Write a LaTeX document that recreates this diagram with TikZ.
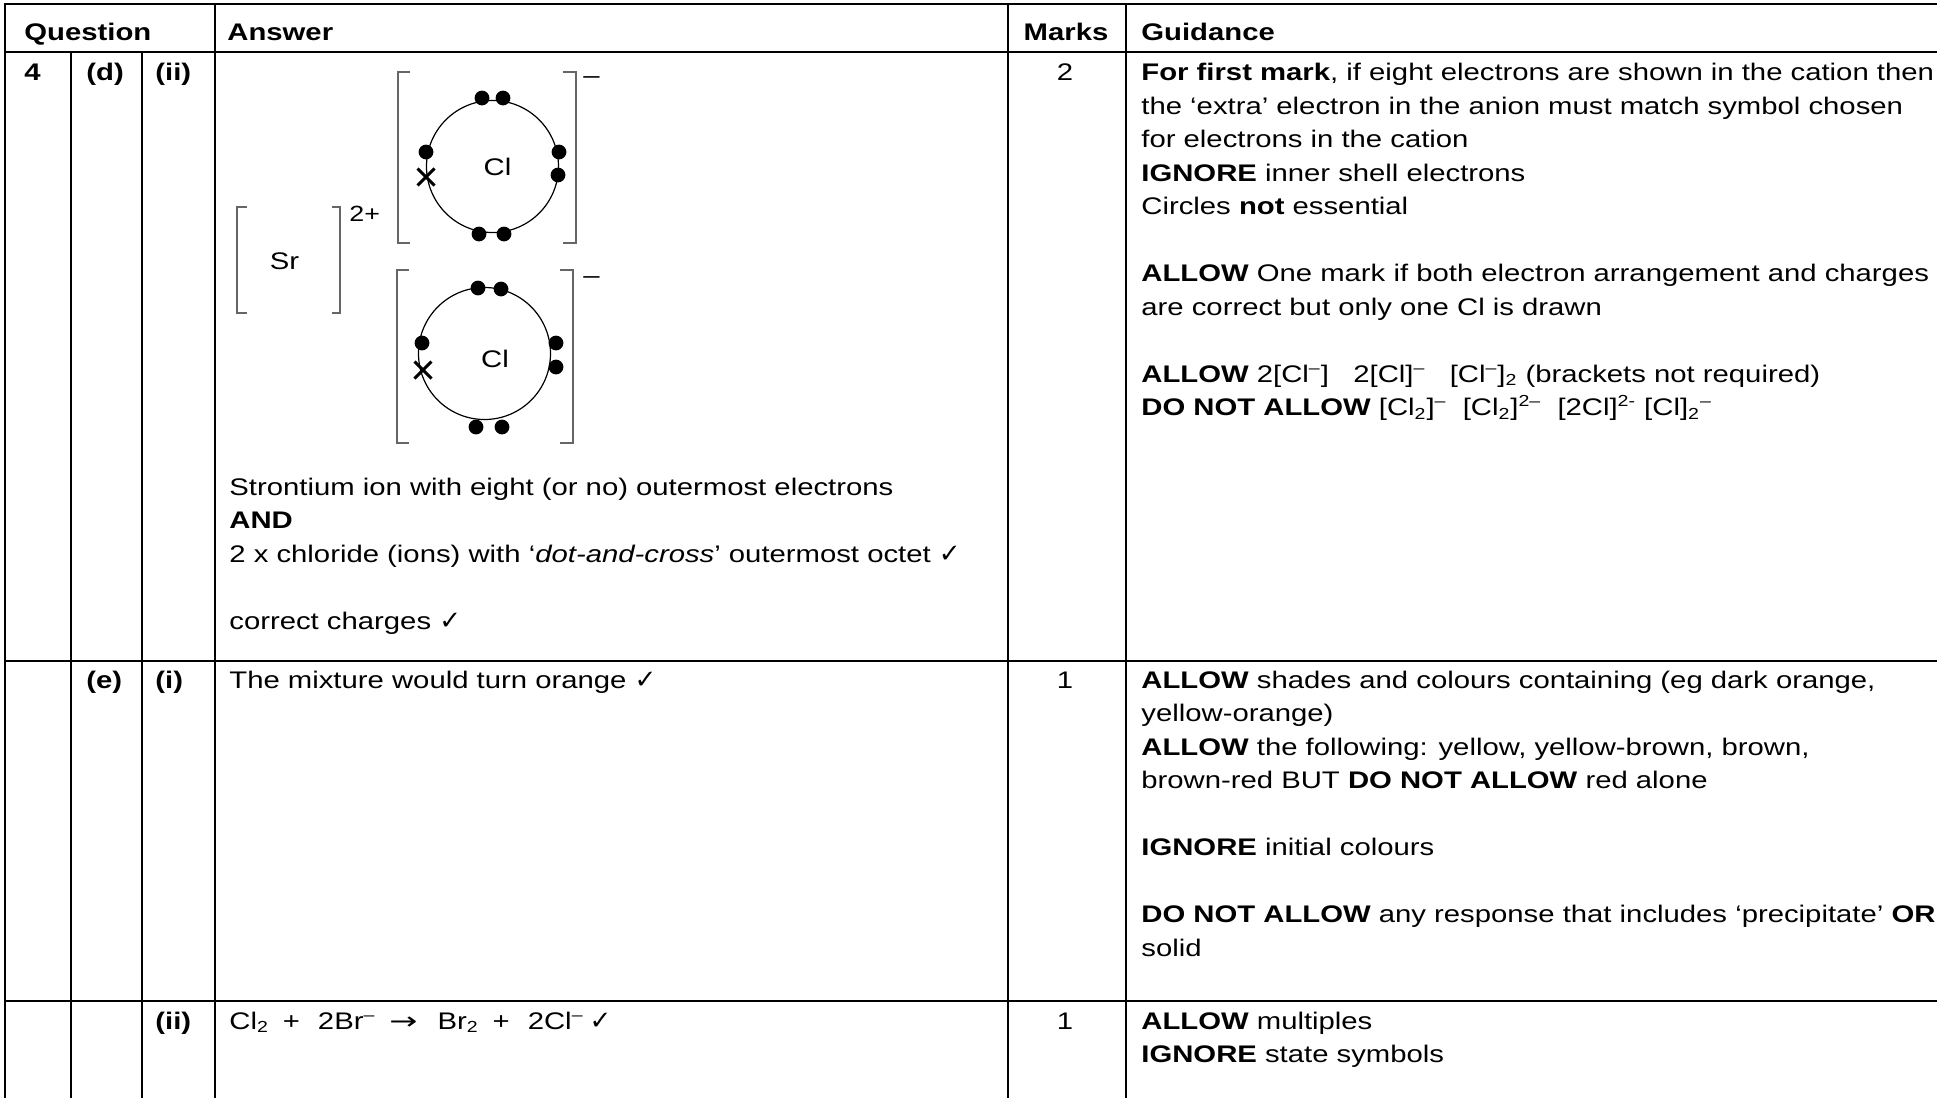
\documentclass[tikz,border=0pt]{standalone}
\usepackage{fontspec}
\setmainfont{Liberation Sans}[FakeStretch=1.22]
\newfontfamily\tickfont{DejaVu Sans}
\newfontfamily\arrowfont{DejaVu Sans}[FakeStretch=1.4]
\newcommand{\mytick}{{\tickfont\fontsize{13}{14}\selectfont ✓}}
\newcommand{\myarrow}{{\arrowfont\fontsize{12}{14}\selectfont →}}

\begin{document}
\begin{tikzpicture}[x=0.5pt, y=-0.5pt,
    every node/.style={inner sep=0pt, font=\fontsize{12}{14}\selectfont},
    rule/.style={line width=1.1pt, line join=miter},
    txt/.style={anchor=base west},
    hd/.style={anchor=base west, font=\fontsize{12}{14}\selectfont\bfseries},
    markno/.style={anchor=base},
    bracket/.style={draw=black!60, line width=0.6pt},
    shell/.style={line width=0.6pt},
    electron/.style={fill=black},
    cross/.style={line width=1.5pt}]

  \useasboundingbox (0,0) rectangle (1937,1098);

  % table rules
  \draw[rule] (1937,4) -- (5,4) -- (5,1098);
  \draw[rule] (5,52) -- (1937,52);
  \draw[rule] (5,661) -- (1937,661);
  \draw[rule] (5,1001) -- (1937,1001);
  \draw[rule] (71,52) -- (71,1098);
  \draw[rule] (142,52) -- (142,1098);
  \draw[rule] (215,4) -- (215,1098);
  \draw[rule] (1008,4) -- (1008,1098);
  \draw[rule] (1126,4) -- (1126,1098);

  % header
  \node[hd] (question) at (24,40.5) {Question};
  \node[hd] (answer) at (227,40.5) {Answer};
  \node[hd, markno] (marks) at (1066,40.5) {Marks};
  \node[hd] (guidance) at (1141,40.5) {Guidance};

  % 4 (d) (ii)
  \node[hd] (q4) at (24,80.5) {4};
  \node[hd] (qd) at (86,80.5) {(d)};
  \node[hd] (qdii) at (155,80.5) {(ii)};
  \node[markno] (markd) at (1065,80.5) {2};

  % strontium ion
  \draw[bracket] (247,207) -- (237,207) -- (237,313) -- (247,313);
  \draw[bracket] (332,207) -- (340,207) -- (340,313) -- (332,313);
  \node[markno] (sr) at (284.5,269) {Sr};
  \node[txt, font=\fontsize{11}{12}\selectfont] (srcharge) at (349,221) {2+};

  % first chloride ion
  \draw[bracket] (410,72) -- (398,72) -- (398,243) -- (410,243);
  \draw[bracket] (563,72) -- (576,72) -- (576,243) -- (563,243);
  \draw[shell] (492.5,166.5) circle[radius=33pt];
  \node[markno] (cla) at (497.5,175) {Cl};
  \node[txt] (clacharge) at (583,83) {–};
  \foreach \x/\y in {482/98, 503/98, 479/234, 504/234, 559/152, 558/175, 426/152}
    \fill[electron] (\x,\y) circle[radius=3.7pt];
  \draw[cross] (417.5,168.5) -- ++(17,17) (417.5,185.5) -- ++(17,-17);

  % second chloride ion
  \draw[bracket] (409,270) -- (397,270) -- (397,443) -- (409,443);
  \draw[bracket] (560,270) -- (573,270) -- (573,443) -- (560,443);
  \draw[shell] (484.5,353.5) circle[radius=33pt];
  \node[markno] (clb) at (495,367) {Cl};
  \node[txt] (clbcharge) at (583,283) {–};
  \foreach \x/\y in {478/288, 501/289, 476/427, 502/427, 556/343, 556/367, 422/343}
    \fill[electron] (\x,\y) circle[radius=3.7pt];
  \draw[cross] (414.5,361.5) -- ++(17,17) (414.5,378.5) -- ++(17,-17);

  % answer (d)(ii)
  \node[txt] (ansa) at (229,495) {Strontium ion with eight (or no) outermost electrons};
  \node[hd] (ansb) at (229,528.5) {AND};
  \node[txt] (ansc) at (229,562) {2 x chloride (ions) with ‘\textit{dot-and-cross}’ outermost octet \mytick};
  \node[txt] (ansd) at (229,629) {correct charges \mytick};

  % guidance (d)(ii)
  \node[txt] (gda) at (1141,80.5) {\textbf{For first mark}, if eight electrons are shown in the cation then};
  \node[txt] (gdb) at (1141,114) {the ‘extra’ electron in the anion must match symbol chosen};
  \node[txt] (gdc) at (1141,147.5) {for electrons in the cation};
  \node[txt] (gdd) at (1141,181) {\textbf{IGNORE} inner shell electrons};
  \node[txt] (gde) at (1141,214.5) {Circles \textbf{not} essential};
  \node[txt] (gdf) at (1141,281.5) {\textbf{ALLOW} One mark if both electron arrangement and charges};
  \node[txt] (gdg) at (1141,315) {are correct but only one Cl is drawn};
  \node[txt] (gdh) at (1141,382) {\textbf{ALLOW} 2[Cl\textsuperscript{–}]~~ 2[Cl]\textsuperscript{–}~~ [Cl\textsuperscript{–}]\textsubscript{2} (brackets not required)};
  \node[txt] (gdi) at (1141,415.5) {\textbf{DO NOT ALLOW} [Cl\textsubscript{2}]\textsuperscript{–}~ [Cl\textsubscript{2}]\textsuperscript{2–}~ [2Cl]\textsuperscript{2-} [Cl]\textsubscript{2}\textsuperscript{–}};

  % (e) (i)
  \node[hd] (qe) at (86,688) {(e)};
  \node[hd] (qei) at (155,688) {(i)};
  \node[txt] (anse) at (229,688) {The mixture would turn orange \mytick};
  \node[markno] (marke) at (1065,688) {1};
  \node[txt] (gea) at (1141,688) {\textbf{ALLOW} shades and colours containing (eg dark orange,};
  \node[txt] (geb) at (1141,721.5) {yellow-orange)};
  \node[txt] (gec) at (1141,755) {\textbf{ALLOW} the following: yellow, yellow-brown, brown,};
  \node[txt] (ged) at (1141,788.5) {brown-red BUT \textbf{DO NOT ALLOW} red alone};
  \node[txt] (gee) at (1141,855.5) {\textbf{IGNORE} initial colours};
  \node[txt] (gef) at (1141,922.5) {\textbf{DO NOT ALLOW} any response that includes ‘precipitate’ \textbf{OR}};
  \node[txt] (geg) at (1141,956) {solid};

  % (e) (ii)
  \node[hd] (qeii) at (155,1029) {(ii)};
  \node[txt] (anseii) at (229,1029) {Cl\textsubscript{2}\hspace{7pt}+\hspace{9pt}2Br\textsuperscript{–}\hspace{7pt}\myarrow\hspace{10pt}Br\textsubscript{2}\hspace{7pt}+\hspace{9pt}2Cl\textsuperscript{–}\hspace{3pt}\mytick};
  \node[markno] (markeii) at (1065,1029) {1};
  \node[txt] (geiia) at (1141,1029) {\textbf{ALLOW} multiples};
  \node[txt] (geiib) at (1141,1062.5) {\textbf{IGNORE} state symbols};
\end{tikzpicture}
\end{document}
